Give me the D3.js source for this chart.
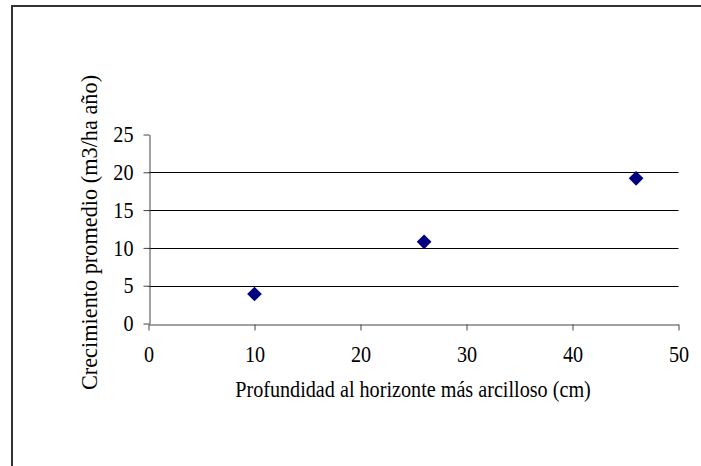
<!DOCTYPE html>
<html>
<head>
<meta charset="utf-8">
<script src="https://cdn.jsdelivr.net/npm/d3@7"></script>
<style>
  body { margin: 0; background: #fff; }
  svg text { font-family: "Liberation Serif", "Times New Roman", serif; fill: #000; }
</style>
</head>
<body>
<div id="chart"></div>
<script>
'use strict';

// depth to the most clayey horizon (cm) vs mean growth (m3/ha año)
var profundidad = [10, 26, 46];
var crecimiento = [3.9, 10.8, 19.2];
var xTicks = [0, 10, 20, 30, 40, 50];
var yTicks = [0, 5, 10, 15, 20, 25];
var xTitle = 'Profundidad al horizonte más arcilloso (cm)';
var yTitle = 'Crecimiento promedio (m3/ha año)';

var width = 701,
    height = 466,
    margin = {top: 134.5, right: 22.5, bottom: 142.5, left: 148.5},
    fontSize = 22.3,
    squeeze = 0.905; // the original text is a bit narrower than it is tall

var svg = d3.select('#chart').append('svg')
    .attr('width', width)
    .attr('height', height);

// outer frame (runs off the right and bottom edges)
svg.append('rect')
    .attr('x', 12)
    .attr('y', 6)
    .attr('width', width + 20)
    .attr('height', height + 20)
    .attr('fill', 'none')
    .attr('stroke', '#333')
    .attr('stroke-width', 2);

var x = d3.scaleLinear().domain([0, 50]).range([margin.left, width - margin.right]);
var y = d3.scaleLinear().domain([0, 25]).range([height - margin.bottom, margin.top]);

// horizontal gridlines (none on the top value)
svg.append('g')
    .selectAll('line')
    .data(yTicks.filter(function(d) { return d > 0 && d < 25; }))
    .enter().append('line')
    .attr('x1', x(0))
    .attr('x2', x(50))
    .attr('y1', function(d) { return Math.round(y(d)) + 0.5; })
    .attr('y2', function(d) { return Math.round(y(d)) + 0.5; })
    .attr('stroke', '#000')
    .attr('stroke-width', 1);

var xAxis = svg.append('g')
    .attr('transform', 'translate(0,' + (Math.round(y(0)) + 0.5) + ')')
    .call(d3.axisBottom(x).tickValues(xTicks).tickSize(6).tickSizeOuter(0));

var yAxis = svg.append('g')
    .attr('transform', 'translate(' + (Math.round(x(0)) + 0.5) + ',0)')
    .call(d3.axisLeft(y).tickValues(yTicks).tickSize(6).tickSizeOuter(0));

[xAxis, yAxis].forEach(function(ax) {
    ax.select('.domain').attr('stroke', '#444');
    ax.selectAll('.tick line').attr('stroke', '#444');
    ax.selectAll('.tick text')
        .attr('font-family', '"Liberation Serif", serif')
        .attr('font-size', fontSize)
        .attr('fill', '#000')
        .attr('transform', 'scale(' + squeeze + ',1)');
});
xAxis.selectAll('.tick text').attr('y', 38).attr('dy', 0);
yAxis.selectAll('.tick text').attr('x', -16 / squeeze);

// markers
svg.append('g')
    .selectAll('path')
    .data(profundidad)
    .enter().append('path')
    .attr('d', d3.symbol(d3.symbolSquare, 108))
    .attr('transform', function(d, i) {
        return 'translate(' + x(d) + ',' + y(crecimiento[i]) + ') rotate(45)';
    })
    .attr('fill', '#000080');

// axis titles
svg.append('text')
    .attr('transform', 'translate(413,397) scale(' + squeeze + ',1)')
    .attr('text-anchor', 'middle')
    .attr('font-size', fontSize)
    .text(xTitle);

svg.append('text')
    .attr('transform', 'translate(97,232.5) rotate(-90)')
    .attr('text-anchor', 'middle')
    .attr('font-size', fontSize)
    .text(yTitle);
</script>
</body>
</html>
